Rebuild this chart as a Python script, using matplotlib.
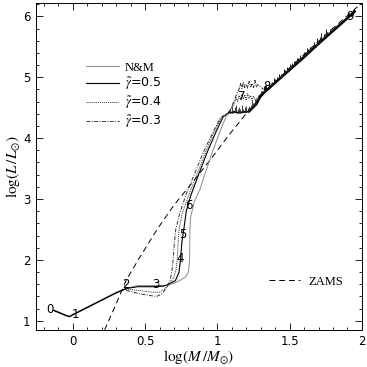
import matplotlib
matplotlib.use("Agg")
import matplotlib.pyplot as plt

# ZAMS mass-luminosity relation
zams_x = [0.22, 0.30, 0.37, 0.46, 0.58, 0.70, 0.81, 0.95, 1.08, 1.22, 1.35, 1.50, 1.75, 2.00]
zams_y = [0.85, 1.28, 1.67, 2.03, 2.49, 2.90, 3.22, 3.64, 4.05, 4.46, 4.80, 5.15, 5.70, 6.22]

# common early part (points 0 -> 2)
early_x = [-0.13, -0.10, -0.07, -0.04, -0.02, 0.00, 0.05, 0.10, 0.15, 0.20, 0.25, 0.30, 0.34, 0.37]
early_y = [1.17, 1.14, 1.11, 1.08, 1.07, 1.10, 1.16, 1.22, 1.28, 1.34, 1.40, 1.46, 1.50, 1.53]

# middle part (point 2 -> knee near log M = 1.08)
nm_x = [0.37, 0.45, 0.55, 0.65, 0.69, 0.74, 0.78, 0.80, 0.808, 0.81, 0.815, 0.84, 0.878, 0.92, 0.97, 1.02, 1.06, 1.08]
nm_y = [1.53, 1.58, 1.58, 1.58, 1.61, 1.66, 1.72, 1.80, 2.00, 2.50, 2.70, 2.95, 3.15, 3.45, 3.80, 4.12, 4.35, 4.42]
g5_x = [0.37, 0.45, 0.55, 0.63, 0.67, 0.71, 0.735, 0.745, 0.755, 0.768, 0.785, 0.815, 0.87, 0.93, 0.99, 1.04, 1.08]
g5_y = [1.53, 1.56, 1.56, 1.57, 1.61, 1.66, 1.80, 2.00, 2.30, 2.50, 2.80, 3.05, 3.40, 3.77, 4.10, 4.35, 4.42]
g4_x = [0.37, 0.45, 0.55, 0.60, 0.64, 0.67, 0.70, 0.715, 0.722, 0.728, 0.735, 0.755, 0.80, 0.85, 0.91, 0.97, 1.03, 1.08]
g4_y = [1.52, 1.50, 1.47, 1.47, 1.53, 1.60, 1.72, 1.85, 2.00, 2.25, 2.50, 2.75, 3.05, 3.35, 3.72, 4.06, 4.35, 4.42]
g3_x = [0.37, 0.45, 0.52, 0.58, 0.62, 0.65, 0.67, 0.685, 0.694, 0.70, 0.712, 0.74, 0.786, 0.84, 0.90, 0.96, 1.02, 1.08]
g3_y = [1.50, 1.45, 1.42, 1.40, 1.45, 1.55, 1.65, 1.80, 2.00, 2.20, 2.50, 2.77, 3.09, 3.40, 3.75, 4.05, 4.33, 4.42]

# branches after the knee
low_x = [1.08, 1.10, 1.12, 1.14, 1.16, 1.18, 1.20, 1.22]
low_y = [4.42, 4.42, 4.43, 4.42, 4.42, 4.43, 4.43, 4.44]
mid_x = [1.08, 1.10, 1.12, 1.13, 1.14, 1.15, 1.16, 1.17, 1.18, 1.19, 1.20, 1.21, 1.22, 1.23, 1.24, 1.25, 1.26, 1.28, 1.30]
mid_y = [4.42, 4.50, 4.58, 4.66, 4.60, 4.70, 4.63, 4.72, 4.64, 4.71, 4.62, 4.73, 4.65, 4.70, 4.62, 4.69, 4.64, 4.66, 4.70]
top_x = [1.08, 1.10, 1.12, 1.14, 1.15, 1.16, 1.17, 1.18, 1.19, 1.20, 1.21, 1.22, 1.23, 1.24, 1.25, 1.26, 1.27, 1.28, 1.30, 1.32]
top_y = [4.42, 4.52, 4.64, 4.76, 4.80, 4.90, 4.81, 4.92, 4.83, 4.89, 4.82, 4.93, 4.84, 4.90, 4.83, 4.95, 4.84, 4.88, 4.84, 4.80]

# common upper part (main line)
up_x = [1.22, 1.27, 1.30, 1.40, 1.50, 1.60, 1.70, 1.80, 1.90, 1.95]
up_y = [4.44, 4.56, 4.70, 4.91, 5.12, 5.33, 5.55, 5.76, 5.97, 6.08]

# spikes on the knee (lower branch) and along the main line
knee_sx = [1.09, 1.10, 1.11, 1.12, 1.13, 1.14, 1.15, 1.16, 1.17, 1.18, 1.19, 1.20, 1.21, 1.22, 1.23, 1.24, 1.25, 1.26, 1.27, 1.28]
knee_sb = [4.42, 4.42, 4.42, 4.43, 4.42, 4.42, 4.42, 4.42, 4.43, 4.43, 4.43, 4.43, 4.44, 4.44, 4.47, 4.50, 4.52, 4.54, 4.56, 4.60]
knee_sh = [0.06, 0.10, 0.04, 0.08, 0.12, 0.05, 0.09, 0.06, 0.11, 0.04, 0.08, 0.10, 0.05, 0.09, 0.07, 0.12, 0.06, 0.10, 0.08, 0.11]
sp_x = [1.30, 1.31, 1.32, 1.33, 1.34, 1.35, 1.36, 1.37, 1.38, 1.39, 1.40, 1.41, 1.42, 1.43, 1.44, 1.45, 1.46,
        1.47, 1.48, 1.49, 1.50, 1.51, 1.52, 1.53, 1.54, 1.55, 1.56, 1.57, 1.58, 1.59, 1.60, 1.61, 1.62, 1.63,
        1.64, 1.65, 1.66, 1.67, 1.68, 1.69, 1.70, 1.71, 1.72, 1.73, 1.74, 1.75, 1.76, 1.77, 1.78, 1.79, 1.80]
sp_base = [4.70, 4.72, 4.74, 4.76, 4.78, 4.80, 4.82, 4.84, 4.87, 4.89, 4.91, 4.93, 4.95, 4.97, 4.99, 5.01, 5.04,
           5.06, 5.08, 5.10, 5.12, 5.14, 5.16, 5.18, 5.21, 5.23, 5.25, 5.27, 5.29, 5.31, 5.33, 5.35, 5.38, 5.40,
           5.42, 5.44, 5.46, 5.48, 5.50, 5.53, 5.55, 5.57, 5.59, 5.61, 5.63, 5.65, 5.67, 5.70, 5.72, 5.74, 5.76]
sp_h = [0.08, 0.05, 0.11, 0.06, 0.09, 0.04, 0.10, 0.07, 0.05, 0.09, 0.06, 0.08, 0.04, 0.09, 0.07, 0.05, 0.10,
        0.06, 0.08, 0.05, 0.09, 0.04, 0.07, 0.09, 0.05, 0.08, 0.06, 0.10, 0.04, 0.07, 0.09, 0.05, 0.10, 0.06,
        0.08, 0.04, 0.07, 0.10, 0.05, 0.12, 0.06, 0.09, 0.13, 0.05, 0.08, 0.15, 0.06, 0.04, 0.07, 0.05, 0.03]

# point labels along the track
lab_text = ["0", "1", "2", "3", "4", "5", "6", "7", "8", "9"]
lab_x = [-0.155, 0.018, 0.37, 0.572, 0.74, 0.763, 0.805, 1.167, 1.34, 1.915]
lab_y = [1.19, 1.10, 1.59, 1.60, 2.03, 2.41, 2.90, 4.68, 4.84, 6.00]

plt.rcParams["mathtext.fontset"] = "stix"
fig = plt.figure(figsize=(3.67, 3.67), dpi=100)
ax = fig.add_axes([0.098, 0.101, 0.888, 0.891])

ax.plot(zams_x, zams_y, color="black", lw=0.7, dashes=(6, 4), label="ZAMS")
ax.plot(early_x, early_y, color="black", lw=1.1)

ax.plot(nm_x, nm_y, color="0.55", lw=0.7, label="N&M")
ax.plot(g5_x, g5_y, color="black", lw=0.8, label=r"$\tilde{\gamma}$=0.5")
ax.plot(g4_x, g4_y, color="0.2", lw=0.7, ls=(0, (1, 1)), label=r"$\tilde{\gamma}$=0.4")
ax.plot(g3_x, g3_y, color="0.2", lw=0.7, ls=(0, (4, 1.5, 1, 1.5)), label=r"$\tilde{\gamma}$=0.3")

ax.plot(low_x, low_y, color="black", lw=1.3)
ax.plot(mid_x, mid_y, color="0.15", lw=0.7, ls=(0, (1, 1)))
ax.plot(top_x, top_y, color="0.15", lw=0.7, ls=(0, (4, 1.5, 1, 1.5)))
ax.plot(up_x, up_y, color="black", lw=1.8)
ax.vlines(knee_sx, knee_sb, [b + h for b, h in zip(knee_sb, knee_sh)], color="0.15", lw=0.6)
ax.vlines(sp_x, sp_base, [b + h for b, h in zip(sp_base, sp_h)], color="0.1", lw=0.7)

for t, x, y in zip(lab_text, lab_x, lab_y):
    ax.text(x, y, t, fontsize=8.5, ha="center", va="center", family="DejaVu Sans")

ax.set_xlim(-0.255, 2.0)
ax.set_ylim(0.85, 6.22)
ax.set_xticks([0, 0.5, 1, 1.5, 2])
ax.set_xticklabels(["0", "0.5", "1", "1.5", "2"])
ax.set_yticks([1, 2, 3, 4, 5, 6])
ax.set_xticks([x / 10 for x in range(-2, 21)], minor=True)
ax.set_yticks([1 + y / 5 for y in range(0, 27)], minor=True)
ax.tick_params(which="both", direction="in", top=True, right=True, labelsize=8.5)
ax.tick_params(which="major", length=5, width=0.6, pad=4)
ax.tick_params(which="minor", length=2.5, width=0.6)
for s in ax.spines.values():
    s.set_linewidth(0.7)

ax.set_xlabel(r"$\mathrm{log}(M\,/M_{\odot})$", fontsize=11, labelpad=0)
ax.set_ylabel(r"$\mathrm{log}(L\,/L_{\odot})$", fontsize=11, labelpad=1)

handles, labels = ax.get_legend_handles_labels()
leg1 = ax.legend(handles[1:], labels[1:], loc="upper left", bbox_to_anchor=(0.12, 0.855),
                 frameon=False, fontsize=9, handlelength=2.6, labelspacing=0.2,
                 handletextpad=0.5)
for t in leg1.get_texts()[:1]:
    t.set_family("Liberation Serif")
ax.add_artist(leg1)
ax.legend(handles[:1], labels[:1], loc="center left", bbox_to_anchor=(0.68, 0.148),
          frameon=False, prop={"family": "Liberation Serif", "size": 9},
          handlelength=2.5, handletextpad=0.7)

fig.savefig("out.png", dpi=100)
